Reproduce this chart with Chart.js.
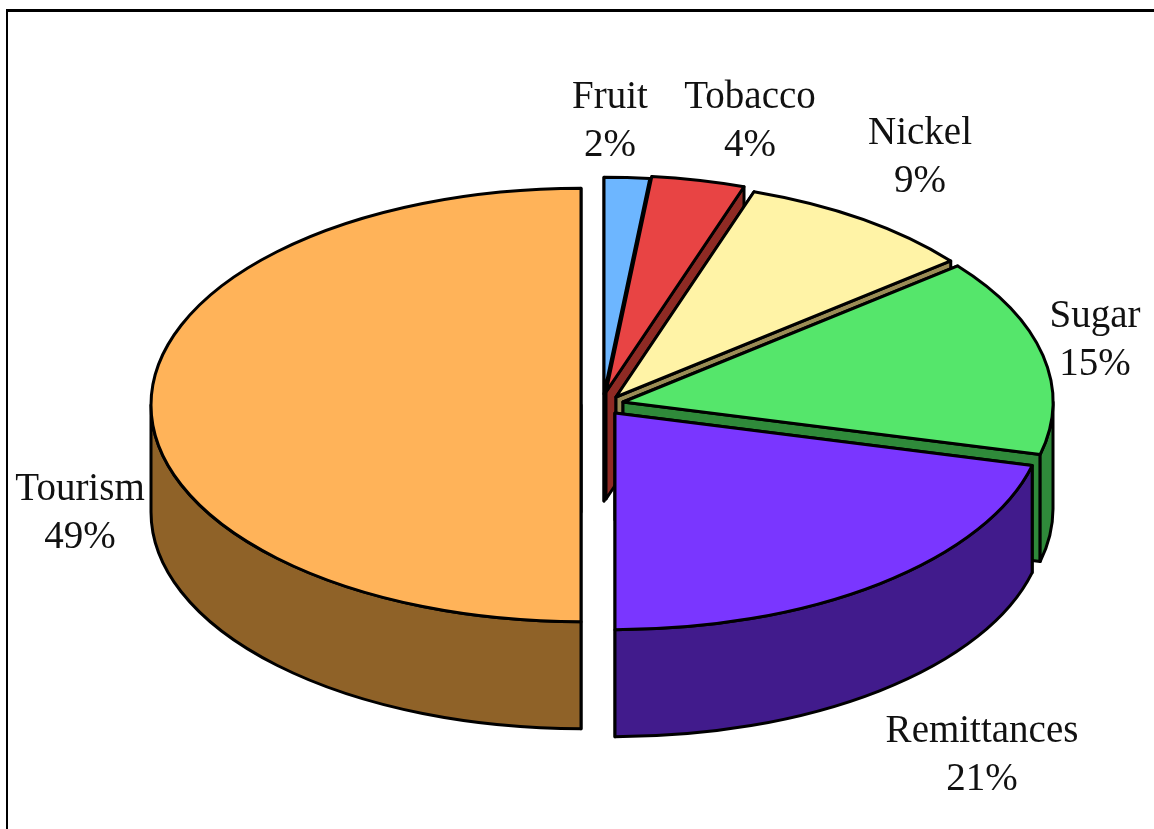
<!DOCTYPE html>
<html>
<head>
<meta charset="utf-8">
<title>Foreign exchange earnings</title>
<script src="https://cdn.jsdelivr.net/npm/chart.js@4"></script>
<style>
  html, body { margin: 0; padding: 0; background: #ffffff; overflow: hidden; }
  #wrap { position: relative; width: 1154px; height: 829px; }
  #frame {
    position: absolute; left: 6px; top: 9px; right: 0; bottom: 0;
    border-top: 3px solid #000; border-left: 2px solid #000;
  }
  canvas { position: absolute; left: 0; top: 0; }
</style>
</head>
<body>
<div id="wrap">
  <div id="frame"></div>
  <canvas id="pieChart" width="1154" height="829"></canvas>
</div>
<script>
// ---------- dados ----------
const categories = ["Fruit", "Tobacco", "Nickel", "Sugar", "Remittances", "Tourism"];
const printedLabels = ["2%", "4%", "9%", "15%", "21%", "49%"];
const sliceShares = [1.7, 3.5, 9.0, 14.7, 21.1, 50.0];

// ---------- estilo ----------
const topColors = ["#6DB6FF", "#E84444", "#FFF3A6", "#55E66B", "#7A36FF", "#FFB359"];
const wallColors = ["#3D6A99", "#8E2A24", "#9A8C55", "#2F8A3A", "#411B8C", "#8F6228"];
const explode = [[-2, -6], [0, -8], [10, -3], [17, 2], [9, 13], [-25, 5]];
const labelPos = [[610, 108], [750, 108], [920, 144], [1095, 327], [982, 742], [80, 500]];
const squash = 0.504;
const depth = 107;
const lineSpacing = 48;

// ---------- pizza 3D ----------
class Pie3DController extends Chart.PieController {
  draw() {
    const ctx = this.chart.ctx;
    this._cachedMeta.data.forEach((arc, i) => {
      const { x, y, startAngle, endAngle, outerRadius: r } =
        arc.getProps(["x", "y", "startAngle", "endAngle", "outerRadius"], true);
      const cx = x + explode[i][0];
      const cy = y + explode[i][1];
      const ry = r * squash;

      ctx.save();
      ctx.lineWidth = 3;
      ctx.lineJoin = "round";
      ctx.strokeStyle = "#000000";
      ctx.fillStyle = wallColors[i];

      // cut faces
      [startAngle, endAngle].forEach((a) => {
        const px = cx + r * Math.cos(a);
        const py = cy + ry * Math.sin(a);
        ctx.beginPath();
        ctx.moveTo(cx, cy);
        ctx.lineTo(px, py);
        ctx.lineTo(px, py + depth);
        ctx.lineTo(cx, cy + depth);
        ctx.closePath();
        ctx.fill();
        ctx.stroke();
      });

      // outer wall, only the front half shows
      const lo = Math.max(startAngle, 0);
      const hi = Math.min(endAngle, Math.PI);
      if (lo < hi) {
        ctx.beginPath();
        ctx.ellipse(cx, cy, r, ry, 0, lo, hi);
        ctx.ellipse(cx, cy + depth, r, ry, 0, hi, lo, true);
        ctx.closePath();
        ctx.fill();
        ctx.stroke();
      }

      // top face: the library's own arc, flattened
      ctx.save();
      ctx.translate(cx, cy);
      ctx.scale(1, squash);
      ctx.translate(-x, -y);
      arc.draw(ctx);
      ctx.restore();

      ctx.beginPath();
      ctx.moveTo(cx, cy);
      ctx.ellipse(cx, cy, r, ry, 0, startAngle, endAngle);
      ctx.closePath();
      ctx.stroke();
      ctx.restore();
    });
  }
}
Pie3DController.id = "pie3d";
Pie3DController.defaults = {};
Chart.register(Pie3DController);

// ---------- rótulos ----------
const labelPlugin = {
  id: "sliceLabels",
  afterDraw(chart) {
    const ctx = chart.ctx;
    ctx.save();
    ctx.font = '39px "Liberation Serif"';
    ctx.fillStyle = "#111111";
    ctx.textAlign = "center";
    categories.forEach((name, i) => {
      ctx.fillText(name, labelPos[i][0], labelPos[i][1]);
      ctx.fillText(printedLabels[i], labelPos[i][0], labelPos[i][1] + lineSpacing);
    });
    ctx.restore();
  }
};

// ---------- inicialização ----------
new Chart(document.getElementById("pieChart").getContext("2d"), {
  type: "pie3d",
  data: {
    labels: categories,
    datasets: [{ data: sliceShares, backgroundColor: topColors, borderWidth: 0 }]
  },
  options: {
    responsive: false,
    animation: false,
    radius: 430,
    layout: { padding: { left: 58, bottom: 29 } },
    plugins: {
      legend: { display: false },
      tooltip: { enabled: false }
    }
  },
  plugins: [labelPlugin]
});
</script>
</body>
</html>
